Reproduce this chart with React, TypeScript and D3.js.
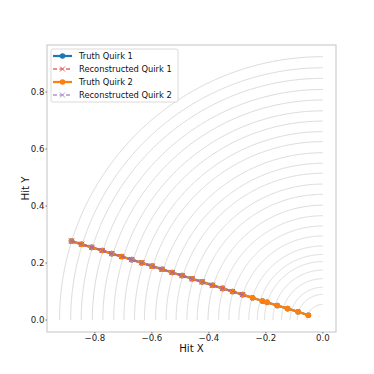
import React from "react";
import * as d3 from "d3";

const layerRadii = [0.055, 0.09, 0.115, 0.145, 0.175, 0.205, 0.23, 0.26, 0.295, 0.33, 0.366, 0.403, 0.441, 0.477, 0.515, 0.55, 0.587, 0.626, 0.661, 0.698, 0.734, 0.772, 0.809, 0.848, 0.885, 0.924];

const truth1X = [-0.882, -0.847, -0.811, -0.774, -0.741, -0.706, -0.671, -0.636, -0.599, -0.564, -0.529, -0.494, -0.459, -0.424, -0.387, -0.352, -0.317, -0.282, -0.247, -0.212, -0.196, -0.160, -0.124, -0.087, -0.051];
const truth1Y = [0.277, 0.266, 0.255, 0.244, 0.233, 0.223, 0.212, 0.201, 0.189, 0.178, 0.167, 0.156, 0.145, 0.134, 0.122, 0.111, 0.100, 0.089, 0.078, 0.067, 0.062, 0.051, 0.040, 0.029, 0.017];
const reco1X = [-0.882, -0.846, -0.811, -0.775, -0.740, -0.706, -0.671, -0.635, -0.599, -0.565, -0.529, -0.494, -0.459, -0.423, -0.388, -0.352, -0.317, -0.282];
const reco1Y = [0.277, 0.266, 0.255, 0.244, 0.233, 0.223, 0.212, 0.201, 0.189, 0.178, 0.167, 0.156, 0.145, 0.134, 0.122, 0.111, 0.100, 0.089];
const truth2X = [-0.882, -0.847, -0.811, -0.774, -0.741, -0.706, -0.671, -0.636, -0.599, -0.564, -0.529, -0.494, -0.459, -0.424, -0.387, -0.352, -0.317, -0.282, -0.247, -0.212, -0.196, -0.160, -0.124, -0.087, -0.051];
const truth2Y = [0.277, 0.266, 0.255, 0.244, 0.233, 0.223, 0.212, 0.201, 0.189, 0.178, 0.167, 0.156, 0.145, 0.134, 0.122, 0.111, 0.100, 0.089, 0.078, 0.067, 0.062, 0.051, 0.040, 0.029, 0.017];
const reco2X = [-0.882, -0.847, -0.811, -0.774, -0.741, -0.706, -0.671, -0.636, -0.599, -0.564, -0.529, -0.494, -0.459, -0.424, -0.387, -0.352, -0.317, -0.282];
const reco2Y = [0.277, 0.266, 0.255, 0.244, 0.233, 0.223, 0.212, 0.201, 0.189, 0.178, 0.167, 0.156, 0.145, 0.134, 0.122, 0.111, 0.100, 0.089];

const xTicks = [-0.8, -0.6, -0.4, -0.2, 0.0];
const yTicks = [0.0, 0.2, 0.4, 0.6, 0.8];
const legendLabels = ["Truth Quirk 1", "Reconstructed Quirk 1", "Truth Quirk 2", "Reconstructed Quirk 2"];

const W = 374, H = 374;
const L = 47, R = 336, T = 45, B = 332;
const FONT = "DejaVu Sans, sans-serif";

export default function App() {
  const x = d3.scaleLinear().domain([-0.968, 0.046]).range([L, R]);
  const y = d3.scaleLinear().domain([-0.042, 0.965]).range([B, T]);
  const line = d3.line<[number, number]>().x(d => x(d[0])).y(d => y(d[1]));
  const angles = d3.range(0, 181).map(i => Math.PI / 2 + (i / 180) * (Math.PI / 2));
  const fmt = (v: number) => d3.format(".1f")(v).replace("-", "\u2212");

  const series = [
    { xs: truth1X, ys: truth1Y, color: "#1f77b4", dash: null, marker: "o", width: 2.2, opacity: 1 },
    { xs: reco1X, ys: reco1Y, color: "#d62728", dash: "4,2.5", marker: "x", width: 1.6, opacity: 0.65 },
    { xs: truth2X, ys: truth2Y, color: "#ff7f0e", dash: null, marker: "o", width: 2.2, opacity: 1 },
    { xs: reco2X, ys: reco2Y, color: "#9467bd", dash: "4,2.5", marker: "x", width: 1.6, opacity: 0.8 },
  ];

  const drawMarker = (m: string, cx: number, cy: number, color: string, key: string) =>
    m === "o" ? (
      <circle key={key} cx={cx} cy={cy} r={2.8} fill={color} />
    ) : (
      <g key={key} stroke={color} strokeWidth={1}>
        <line x1={cx - 2.5} y1={cy - 2.5} x2={cx + 2.5} y2={cy + 2.5} />
        <line x1={cx - 2.5} y1={cy + 2.5} x2={cx + 2.5} y2={cy - 2.5} />
      </g>
    );

  return (
    <svg width={W} height={H} style={{ position: "absolute", left: 0, top: 0 }} fontFamily={FONT}>
      <rect x={0} y={0} width={W} height={H} fill="#fff" />
      <defs>
        <clipPath id="plotclip">
          <rect x={L} y={T} width={R - L} height={B - T} />
        </clipPath>
      </defs>
      <g clipPath="url(#plotclip)">
        {layerRadii.map((r, i) => (
          <path
            key={"arc" + i}
            d={line(angles.map(a => [r * Math.cos(a), r * Math.sin(a)] as [number, number])) || ""}
            fill="none"
            stroke="#dcdcdc"
            strokeWidth={1}
          />
        ))}
        {series.map((s, si) => {
          const pts = s.xs.map((v, i) => [v, s.ys[i]] as [number, number]);
          return (
            <g key={"s" + si} opacity={s.opacity}>
              <path d={line(pts) || ""} fill="none" stroke={s.color} strokeWidth={s.width} strokeDasharray={s.dash || undefined} />
              {pts.map((p, i) => drawMarker(s.marker, x(p[0]), y(p[1]), s.color, "m" + si + "-" + i))}
            </g>
          );
        })}
      </g>
      <rect x={L} y={T} width={R - L} height={B - T} fill="none" stroke="#c4c4c4" strokeWidth={1} />
      {xTicks.map(t => (
        <g key={"xt" + t}>
          <line x1={x(t)} x2={x(t)} y1={B} y2={B + 1.5} stroke="#555" strokeWidth={0.8} />
          <text x={x(t)} y={341} textAnchor="middle" fontSize={8.6} fill="#222">{fmt(t)}</text>
        </g>
      ))}
      {yTicks.map(t => (
        <g key={"yt" + t}>
          <line x1={L - 1.5} x2={L} y1={y(t)} y2={y(t)} stroke="#555" strokeWidth={0.8} />
          <text x={L - 2.5} y={y(t) + 3.1} textAnchor="end" fontSize={8.6} fill="#222">{fmt(t)}</text>
        </g>
      ))}
      <text x={(L + R) / 2} y={352} textAnchor="middle" fontSize={10.2} fill="#111">Hit X</text>
      <text transform={`translate(28.5,${(T + B) / 2}) rotate(-90)`} textAnchor="middle" fontSize={10.2} fill="#111">Hit Y</text>
      <g>
        <rect x={51} y={49} width={127} height={53} rx={2} fill="#fff" fillOpacity={0.85} stroke="#d0d0d0" strokeWidth={0.8} />
        {series.map((s, i) => {
          const ly = 56 + i * 13;
          return (
            <g key={"lg" + i}>
              <g opacity={s.opacity === 1 ? 1 : 0.7}>
                <line x1={53} x2={72} y1={ly} y2={ly} stroke={s.color} strokeWidth={s.width} strokeDasharray={s.dash || undefined} />
                {drawMarker(s.marker, 62.5, ly, s.color, "lm" + i)}
              </g>
              <text x={79} y={ly + 3} fontSize={8.3} fill="#111">{legendLabels[i]}</text>
            </g>
          );
        })}
      </g>
    </svg>
  );
}
